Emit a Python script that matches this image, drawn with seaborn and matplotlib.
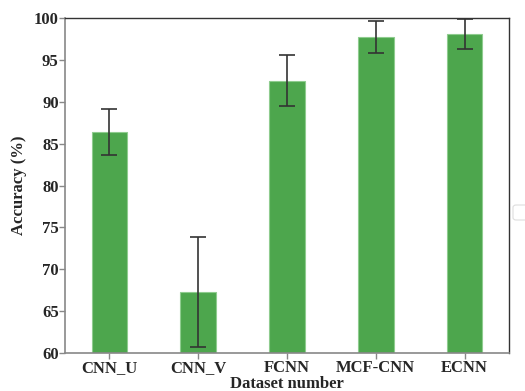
import matplotlib
matplotlib.use("Agg")
import matplotlib.pyplot as plt
import seaborn as sns
import pandas as pd
from matplotlib.patches import FancyBboxPatch

models = ["CNN_U", "CNN_V", "FCNN", "MCF-CNN", "ECNN"]
accuracy = [86.4, 67.25, 92.5, 97.7, 98.1]
errors = [2.75, 6.55, 3.05, 1.93, 1.75]
yticks = [60, 65, 70, 75, 80, 85, 90, 95, 100]

sns.set_style("white")
plt.rcParams["font.family"] = ["Liberation Serif", "DejaVu Serif"]
plt.rcParams["font.weight"] = "bold"

fig = plt.figure(figsize=(5.25, 3.91), dpi=100)
ax = fig.add_axes([65/525, 1-353/391, (509-65)/525, (353-18)/391])

df = pd.DataFrame({"Model": models, "Accuracy": accuracy})
sns.barplot(data=df, x="Model", y="Accuracy", color="#4DA64D", width=0.4,
            saturation=1, edgecolor="#8fcc8f", linewidth=0.8, ax=ax)
ax.errorbar(range(len(models)), accuracy, yerr=errors, fmt="none",
            ecolor="#333333", elinewidth=1.2, capsize=5.5, capthick=1.2)

ax.set_ylim(60, 100)
ax.set_xlim(-0.5, 4.5)
ax.set_yticks(yticks)
ax.set_yticklabels([str(t) for t in yticks])
ax.tick_params(axis="both", labelsize=12, length=4, width=1, color="#888888",
               bottom=True, left=True)
ax.tick_params(axis="x", pad=1)
ax.tick_params(axis="y", pad=0.5)
for lab in ax.get_xticklabels() + ax.get_yticklabels():
    lab.set_fontweight("bold")
ax.set_xlabel("Dataset number", fontsize=12, fontweight="bold", labelpad=0)
ax.set_ylabel("Accuracy (%)", fontsize=12, fontweight="bold", labelpad=5)

for s in ["left", "bottom"]:
    ax.spines[s].set_color("#888888")
    ax.spines[s].set_linewidth(1.2)
for s in ["top", "right"]:
    ax.spines[s].set_color("#333333")
    ax.spines[s].set_linewidth(1.0)

# empty legend box at right edge
box = FancyBboxPatch((513/525, 1-220/391), 20/525, 15/391,
                     boxstyle="round,pad=0,rounding_size=0.006",
                     transform=fig.transFigure, facecolor="white",
                     edgecolor="#dddddd", linewidth=0.8)
fig.patches.append(box)

fig.savefig("out.png", dpi=100)
